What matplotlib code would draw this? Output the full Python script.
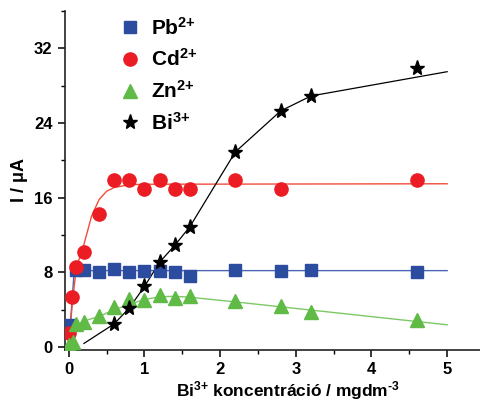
import matplotlib
matplotlib.use("Agg")
import matplotlib.pyplot as plt
from matplotlib.ticker import MultipleLocator

plt.rcParams['font.family'] = ['Liberation Sans', 'DejaVu Sans']
plt.rcParams['font.weight'] = 'bold'
plt.rcParams['mathtext.fontset'] = 'custom'
plt.rcParams['mathtext.rm'] = 'Liberation Sans:bold'
plt.rcParams['mathtext.bf'] = 'Liberation Sans:bold'
plt.rcParams['mathtext.it'] = 'Liberation Sans:bold'

# measured points
pb_x = [0.02, 0.1, 0.2, 0.4, 0.6, 0.8, 1.0, 1.2, 1.4, 1.6, 2.2, 2.8, 3.2, 4.6]
pb_y = [2.4, 8.3, 8.3, 8.0, 8.4, 8.0, 8.2, 8.2, 8.1, 7.6, 8.3, 8.2, 8.3, 8.1]

cd_x = [0.0, 0.04, 0.1, 0.2, 0.4, 0.6, 0.8, 1.0, 1.2, 1.4, 1.6, 2.2, 2.8, 4.6]
cd_y = [1.5, 5.4, 8.6, 10.2, 14.3, 17.9, 17.9, 16.9, 17.9, 16.9, 16.9, 17.9, 16.9, 17.9]

zn_x = [0.0, 0.05, 0.1, 0.2, 0.4, 0.6, 0.8, 1.0, 1.2, 1.4, 1.6, 2.2, 2.8, 3.2, 4.6]
zn_y = [0.2, 0.6, 2.5, 2.7, 3.3, 4.3, 5.2, 5.1, 5.6, 5.3, 5.5, 4.9, 4.4, 3.8, 2.9]

bi_x = [0.6, 0.8, 1.0, 1.2, 1.4, 1.6, 2.2, 2.8, 3.2, 4.6]
bi_y = [2.5, 4.2, 6.5, 9.1, 10.9, 12.9, 20.9, 25.3, 26.9, 29.9]

# fitted curves
pb_fit_x = [0.0, 0.02, 0.07, 0.1, 5.0]
pb_fit_y = [0.3, 2.4, 8.0, 8.2, 8.2]
cd_fit_x = [0.0, 0.05, 0.1, 0.2, 0.3, 0.4, 0.5, 0.6, 0.8, 1.0, 5.0]
cd_fit_y = [0.2, 5.0, 8.5, 11.0, 14.0, 15.8, 16.7, 17.1, 17.4, 17.45, 17.5]
zn_fit_x = [0.0, 0.1, 0.2, 0.4, 0.6, 0.8, 1.0, 1.2, 1.4, 1.6, 2.2, 5.0]
zn_fit_y = [0.0, 2.3, 2.8, 3.3, 4.0, 4.6, 5.1, 5.4, 5.45, 5.35, 4.85, 2.4]
bi_fit_x = [0.2, 0.6, 0.8, 1.0, 1.2, 1.4, 1.6, 2.2, 2.8, 3.2, 5.0]
bi_fit_y = [0.4, 2.5, 4.2, 6.5, 9.1, 10.9, 12.9, 20.9, 25.3, 26.9, 29.5]

labels = [r'Pb$^{\text{2+}}$', r'Cd$^{\text{2+}}$', r'Zn$^{\text{2+}}$', r'Bi$^{\text{3+}}$']
x_ticks = [0, 1, 2, 3, 4, 5]
y_ticks = [0, 8, 16, 24, 32]

blue = '#2b4c9f'
red = '#ec1c24'
green = '#5fba46'

fig = plt.figure(figsize=(4.8, 4.03), dpi=100)
ax = fig.add_axes([65/480, 53/403, 420/480, 339/403])

ax.plot(pb_fit_x, pb_fit_y, color='#4b66b5', lw=1.0, zorder=2)
ax.plot(cd_fit_x, cd_fit_y, color='#f04d3a', lw=1.0, zorder=2)
ax.plot(zn_fit_x, zn_fit_y, color='#7cc865', lw=1.0, zorder=2)
ax.plot(bi_fit_x, bi_fit_y, color='black', lw=0.9, zorder=2)

ax.plot(pb_x, pb_y, ls='none', marker='s', ms=8.5, color=blue, mec=blue, label=labels[0], zorder=3)
ax.plot(cd_x, cd_y, ls='none', marker='o', ms=9.5, color=red, mec=red, label=labels[1], zorder=3)
ax.plot(zn_x, zn_y, ls='none', marker='^', ms=10, color=green, mec=green, label=labels[2], zorder=3)
ax.plot(bi_x, bi_y, ls='none', marker='*', ms=11, color='black', mec='black', label=labels[3], zorder=4)

ax.set_xlim(-0.05, 5.5)
ax.set_ylim(-0.3, 36)
ax.set_xticks(x_ticks)
ax.set_yticks(y_ticks)
ax.xaxis.set_minor_locator(MultipleLocator(0.5))
ax.yaxis.set_minor_locator(MultipleLocator(4))
ax.tick_params(which='major', direction='out', length=5, width=1.1, labelsize=12, pad=4)
ax.tick_params(which='minor', direction='out', length=3, width=1.0)
for lab in ax.get_xticklabels() + ax.get_yticklabels():
    lab.set_fontweight('bold')

for s in ['top', 'right']:
    ax.spines[s].set_visible(False)
for s in ['left', 'bottom']:
    ax.spines[s].set_linewidth(1.2)
    ax.spines[s].set_color('#222222')

ax.set_xlabel(r'Bi$^{\text{3+}}$ koncentráció / mgdm$^{\text{-3}}$', fontsize=12.5, fontweight='bold')
ax.xaxis.set_label_coords(0.53, -0.085)
ax.set_ylabel('I / μA', fontsize=13, fontweight='bold')
ax.yaxis.set_label_coords(-0.088, 0.5)

leg = ax.legend(loc='upper left', bbox_to_anchor=(0.105, 1.008), frameon=False,
                fontsize=15, handletextpad=0.4, labelspacing=0.47, handlelength=1.2,
                borderaxespad=0.0)

fig.savefig('out.png', dpi=100)
